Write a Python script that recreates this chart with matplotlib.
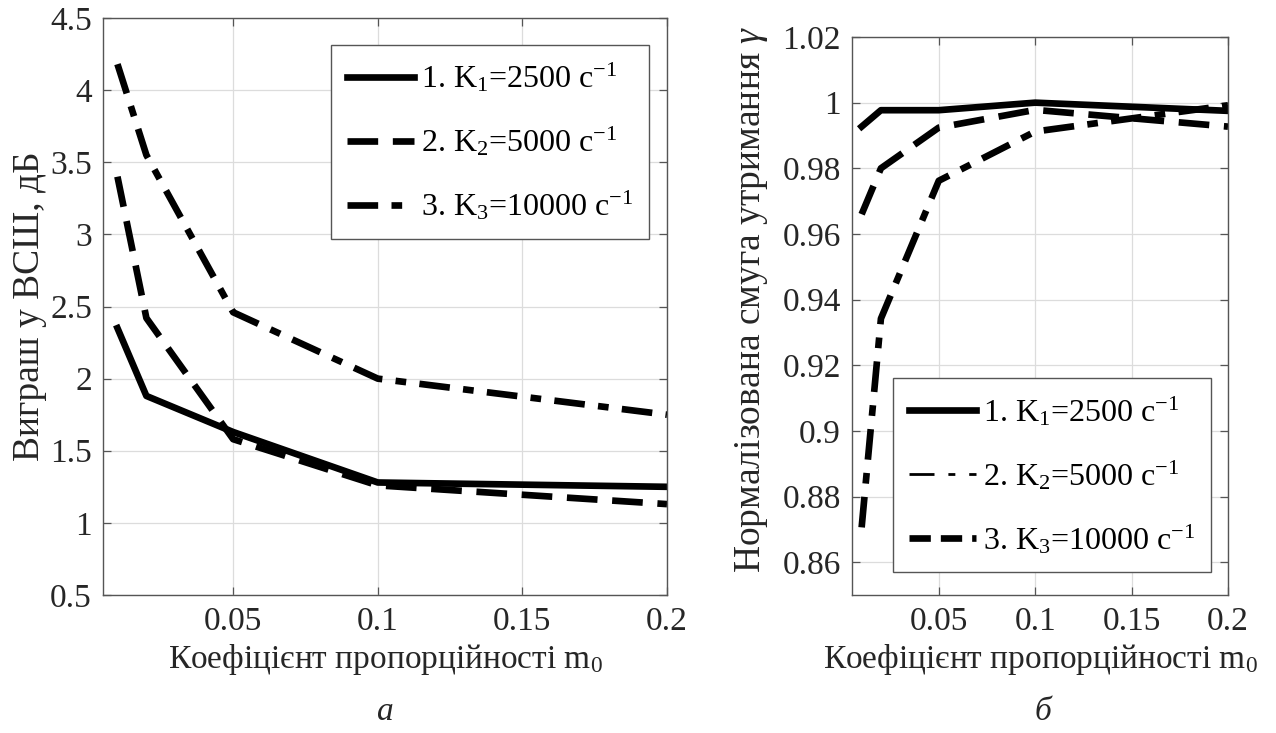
import matplotlib
matplotlib.use("Agg")
import matplotlib.pyplot as plt
from matplotlib.lines import Line2D

plt.rcParams["font.family"] = ["Liberation Serif", "DejaVu Serif"]
plt.rcParams["mathtext.fontset"] = "custom"
plt.rcParams["mathtext.rm"] = "Liberation Serif"
plt.rcParams["mathtext.it"] = "Liberation Serif:italic"

# coefficient m0
m0 = [0.01, 0.02, 0.05, 0.1, 0.2]

# (а) SNR gain, dB
gain_k1 = [2.35, 1.88, 1.63, 1.28, 1.25]
gain_k2 = [3.40, 2.42, 1.58, 1.26, 1.13]
gain_k3 = [4.18, 3.55, 2.46, 2.00, 1.75]

# (б) normalised hold-in band
band_k1 = [0.9927, 0.9977, 0.9977, 1.0000, 0.9975]
band_k2 = [0.9660, 0.9800, 0.9924, 0.9978, 0.9927]
band_k3 = [0.8706, 0.9342, 0.9762, 0.9912, 0.9992]

labels = [r"1. K$_1$=2500 c$^{-1}$",
          r"2. K$_2$=5000 c$^{-1}$",
          r"3. K$_3$=10000 c$^{-1}$"]

LW = 4.8
DASH = (0, (4.6, 2.2))
DASHDOT = (0, (4.6, 2.0, 1.6, 2.0))
FS_TICK = 24
FS_LAB = 24
FS_LEG = 23
TXT = "#262626"

fig = plt.figure(figsize=(12.76, 7.33), dpi=100)
ax1 = fig.add_axes([103 / 1276, 1 - 595 / 733, 564 / 1276, 577 / 733])
ax2 = fig.add_axes([852 / 1276, 1 - 595 / 733, 376 / 1276, 558 / 733])


def style(ax):
    ax.set_xlim(0.005, 0.2)
    ax.set_xticks([0.05, 0.1, 0.15, 0.2])
    ax.set_xticklabels(["0.05", "0.1", "0.15", "0.2"])
    ax.grid(True, color="#dcdcdc", linewidth=0.9)
    ax.set_axisbelow(True)
    ax.tick_params(direction="in", length=6, width=0.9, top=True, right=True,
                   labelsize=FS_TICK, colors="#555555", labelcolor=TXT, pad=8)
    for s in ax.spines.values():
        s.set_color("#555555")
        s.set_linewidth(1.0)
    ax.set_xlabel(r"Коефіцієнт пропорційності m$_0$", fontsize=FS_LAB, color=TXT, labelpad=4)


def legend(ax, handles, **kw):
    leg = ax.legend(handles, labels, fontsize=FS_LEG, frameon=True, fancybox=False,
                    framealpha=1, edgecolor="#555555", handlelength=2.1,
                    handletextpad=0.2, labelspacing=0.95, borderpad=0.5,
                    borderaxespad=0, **kw)
    leg.get_frame().set_linewidth(1.0)
    return leg


# left panel
ax1.plot(m0, gain_k1, color="black", lw=LW)
ax1.plot(m0, gain_k2, color="black", lw=LW, linestyle=DASH)
ax1.plot(m0, gain_k3, color="black", lw=LW, linestyle=DASHDOT)
style(ax1)
ax1.set_ylim(0.5, 4.5)
ax1.set_yticks([0.5, 1, 1.5, 2, 2.5, 3, 3.5, 4, 4.5])
ax1.set_yticklabels(["0.5", "1", "1.5", "2", "2.5", "3", "3.5", "4", "4.5"])
ax1.set_ylabel("Виграш у ВСШ, дБ", fontsize=27, color=TXT, labelpad=2)
h1 = [Line2D([], [], color="black", lw=LW),
      Line2D([], [], color="black", lw=LW, linestyle=DASH),
      Line2D([], [], color="black", lw=LW, linestyle=DASHDOT)]
legend(ax1, h1, loc="upper right", bbox_to_anchor=(0.968, 0.953))

# right panel
ax2.plot(m0, band_k1, color="black", lw=LW)
ax2.plot(m0, band_k2, color="black", lw=LW, linestyle=DASH)
ax2.plot(m0, band_k3, color="black", lw=LW, linestyle=DASHDOT)
style(ax2)
ax2.set_ylim(0.85, 1.02)
ax2.set_yticks([0.86, 0.88, 0.9, 0.92, 0.94, 0.96, 0.98, 1.0, 1.02])
ax2.set_yticklabels(["0.86", "0.88", "0.9", "0.92", "0.94", "0.96", "0.98", "1", "1.02"])
ax2.set_ylabel(r"Нормалізована смуга утримання $\gamma$", fontsize=27, color=TXT)
ax2.yaxis.set_label_coords(-0.218, 0.53)
h2 = [Line2D([], [], color="black", lw=LW),
      Line2D([], [], color="black", lw=2.0, linestyle=(0, (9, 5, 2.5, 5))),
      Line2D([], [], color="black", lw=LW, linestyle=(0, (3.2, 1.5)))]
legend(ax2, h2, loc="lower right", bbox_to_anchor=(0.955, 0.041))

fig.text(385 / 1276, 1 - 712 / 733, "а", fontsize=FS_LAB, style="italic",
         ha="center", va="center", color=TXT)
fig.text(1043 / 1276, 1 - 712 / 733, "б", fontsize=FS_LAB, style="italic",
         ha="center", va="center", color=TXT)

fig.savefig("out.png", dpi=100)
